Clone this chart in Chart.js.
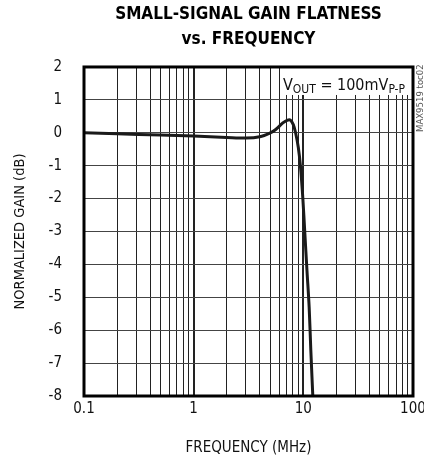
<!DOCTYPE html>
<html>
<head>
<meta charset="utf-8">
<script src="https://cdn.jsdelivr.net/npm/chart.js@4"></script>
<style>
  html, body { margin: 0; padding: 0; background: #fff; }
  #wrap { width: 424px; height: 457px; }
</style>
</head>
<body>
<div id="wrap"><canvas id="gainChart" width="424" height="457"></canvas></div>
<script>
// data
const freqMHz = [0.1, 0.2, 0.5, 1, 2, 3, 4, 5, 5.6, 6.5, 7.1, 7.6, 8.1, 8.5, 9, 9.4, 9.9, 10.3, 10.8, 11.3, 11.7, 12.2];
const gainDb  = [0, -0.03, -0.07, -0.1, -0.14, -0.16, -0.12, 0.0, 0.1, 0.3, 0.38, 0.39, 0.25, 0.0, -0.45, -1.0, -2.0, -3.0, -4.2, -5.3, -6.6, -8.0];
const xTicks = [0.1, 0.2, 0.3, 0.4, 0.5, 0.6, 0.7, 0.8, 0.9, 1, 2, 3, 4, 5, 6, 7, 8, 9, 10, 20, 30, 40, 50, 60, 70, 80, 90, 100];
const xLabels = { 0.1: '0.1', 1: '1', 10: '10', 100: '100' };
const yMin = -8, yMax = 2;

const FONT = "'DejaVu Sans Condensed', 'Liberation Sans Narrow', sans-serif";

const isDecade = v => Math.abs(Math.log10(v) - Math.round(Math.log10(v))) < 1e-6;

// frame + annotation texts
const framePlugin = {
    id: 'frame',
    afterDraw(chart) {
        const ctx = chart.ctx;
        const a = chart.chartArea;
        ctx.save();

        // label box covers the grid
        ctx.fillStyle = '#fff';
        ctx.fillRect(280, a.top, a.right - 280, 28);

        ctx.strokeStyle = '#000';
        ctx.lineWidth = 3;
        ctx.strokeRect(a.left, a.top, a.right - a.left, a.bottom - a.top);

        // V_OUT = 100mV_P-P
        ctx.fillStyle = '#111';
        ctx.textBaseline = 'alphabetic';
        ctx.textAlign = 'left';
        let x = 283, y = 90;
        const big = '16px ' + FONT, small = '12px ' + FONT;
        const parts = [['V', big, 0], ['OUT', small, 3], [' = 100mV', big, 0], ['P-P', small, 3]];
        parts.forEach(p => {
            ctx.font = p[1];
            ctx.fillText(p[0], x, y + p[2]);
            x += ctx.measureText(p[0]).width;
        });

        // side id
        ctx.font = '9.5px ' + FONT;
        ctx.fillStyle = '#555';
        ctx.translate(423, 132);
        ctx.rotate(-Math.PI / 2);
        ctx.fillText('MAX9519 toc02', 0, 0);
        ctx.restore();
    }
};

const ctx = document.getElementById('gainChart').getContext('2d');
new Chart(ctx, {
    type: 'line',
    data: {
        datasets: [{
            data: freqMHz.map((f, i) => ({ x: f, y: gainDb[i] })),
            borderColor: '#1a1a1a',
            borderWidth: 3,
            pointRadius: 0,
            tension: 0.3,
            fill: false
        }]
    },
    options: {
        responsive: false,
        animation: false,
        layout: { padding: { left: 0, right: 11, top: 0, bottom: 0 } },
        plugins: {
            legend: { display: false },
            tooltip: { enabled: false },
            title: {
                display: true,
                fullSize: false,
                text: ['SMALL-SIGNAL GAIN FLATNESS', 'vs. FREQUENCY'],
                color: '#000',
                font: { family: FONT, size: 17, weight: 'bold', lineHeight: 1.47 },
                padding: { top: 2, bottom: 15 }
            }
        },
        scales: {
            x: {
                type: 'logarithmic',
                min: 0.1,
                max: 100,
                afterBuildTicks: scale => { scale.ticks = xTicks.map(v => ({ value: v })); },
                afterFit: scale => { scale.height = 61; scale.paddingLeft = 0; scale.paddingRight = 0; },
                ticks: {
                    autoSkip: false,
                    maxRotation: 0,
                    padding: 4,
                    color: '#111',
                    font: { family: FONT, size: 15 },
                    callback: v => xLabels[v] || ''
                },
                grid: {
                    drawTicks: false,
                    color: '#222',
                    lineWidth: c => (c.tick && isDecade(c.tick.value)) ? 2 : 1
                },
                border: { display: false },
                title: {
                    display: true,
                    text: 'FREQUENCY (MHz)',
                    color: '#111',
                    font: { family: FONT, size: 15 },
                    padding: { top: 8, bottom: 0 }
                }
            },
            y: {
                min: yMin,
                max: yMax,
                afterFit: scale => { scale.width = 84; scale.paddingTop = 0; scale.paddingBottom = 0; },
                ticks: {
                    stepSize: 1,
                    padding: 22,
                    color: '#111',
                    font: { family: FONT, size: 15 }
                },
                grid: { drawTicks: false, color: '#444', lineWidth: 1 },
                border: { display: false },
                title: {
                    display: true,
                    text: 'NORMALIZED GAIN (dB)',
                    color: '#111',
                    font: { family: FONT, size: 14.5 },
                    padding: { top: 12, bottom: 0 }
                }
            }
        }
    },
    plugins: [framePlugin]
});
</script>
</body>
</html>
